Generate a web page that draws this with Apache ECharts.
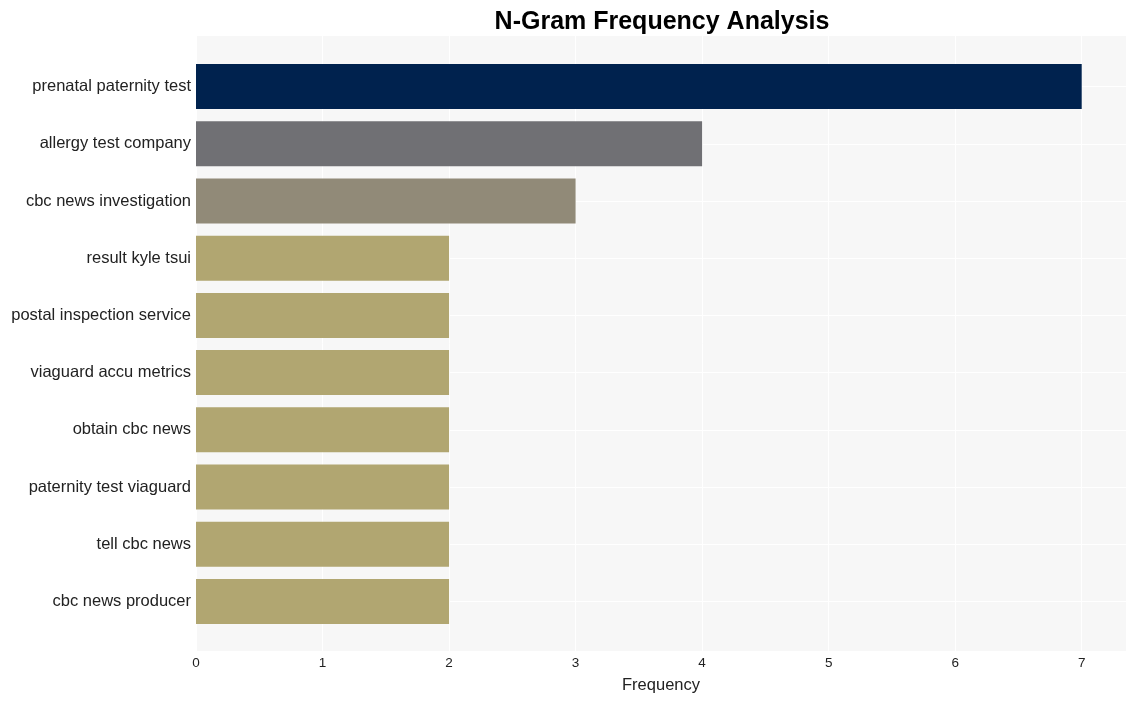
<!DOCTYPE html>
<html>
<head>
<meta charset="utf-8">
<script src="https://cdn.jsdelivr.net/npm/echarts@6/dist/echarts.min.js"></script>
<style>html,body{margin:0;padding:0;background:#fff;}#c{width:1135px;height:701px;}</style>
</head>
<body>
<div id="c"></div>
<script>
const categories = ["prenatal paternity test","allergy test company","cbc news investigation","result kyle tsui","postal inspection service","viaguard accu metrics","obtain cbc news","paternity test viaguard","tell cbc news","cbc news producer"];
const values = [7,4,3,2,2,2,2,2,2,2];
const barColors = ["#00224e","#707074","#918a78","#b1a671","#b1a671","#b1a671","#b1a671","#b1a671","#b1a671","#b1a671"];
const xTicks = [0,1,2,3,4,5,6,7];

const chart = echarts.init(document.getElementById('c'));
const FONT = "Liberation Sans, Arial, sans-serif";
chart.setOption({
  animation: false,
  title: {
    text: "N-Gram Frequency Analysis",
    left: 657, top: 5, textAlign: 'center',
    textStyle: {fontFamily: FONT, fontSize: 25, fontWeight: 'bold', color: '#000'}
  },
  grid: [
    {left: 196, right: 9, top: 36, bottom: 50, show: true, backgroundColor: '#f7f7f7', borderWidth: 0},
    {left: 196, right: 9, top: 58, bottom: 71}
  ],
  xAxis: [
    {gridIndex: 0, type: 'value', min: 0, max: 7.35, interval: 1,
     name: 'Frequency', nameLocation: 'middle', nameGap: 26,
     nameTextStyle: {fontFamily: FONT, fontSize: 16.5, color: '#222'},
     axisLine: {show: false}, axisTick: {show: false},
     axisLabel: {fontFamily: FONT, fontSize: 13.5, color: '#222', margin: 5,
       formatter: v => xTicks.includes(v) ? String(v) : ''},
     splitLine: {show: true, lineStyle: {color: '#ffffff', width: 1}}},
    {gridIndex: 1, type: 'value', min: 0, max: 7.35, show: false}
  ],
  yAxis: [
    {gridIndex: 0, type: 'value', show: false},
    {gridIndex: 1, type: 'category', data: categories, inverse: true,
     axisLine: {show: false}, axisTick: {show: false},
     axisLabel: {fontFamily: FONT, fontSize: 16.5, color: '#222', margin: 5, padding: [4, 0, 0, 0]},
     splitLine: {show: false}}
  ],
  series: [
    {type: 'line', xAxisIndex: 1, yAxisIndex: 1, data: [], z: 1, silent: true,
     markLine: {silent: true, z: 1, symbol: 'none', label: {show: false},
       lineStyle: {color: '#ffffff', width: 1, type: 'solid'},
       data: categories.map(c => ({yAxis: c}))}},
    {type: 'bar', xAxisIndex: 1, yAxisIndex: 1, barWidth: 45, z: 5,
     data: values.map((v, i) => ({value: v, itemStyle: {color: barColors[i]}}))}
  ]
});
</script>
</body>
</html>
